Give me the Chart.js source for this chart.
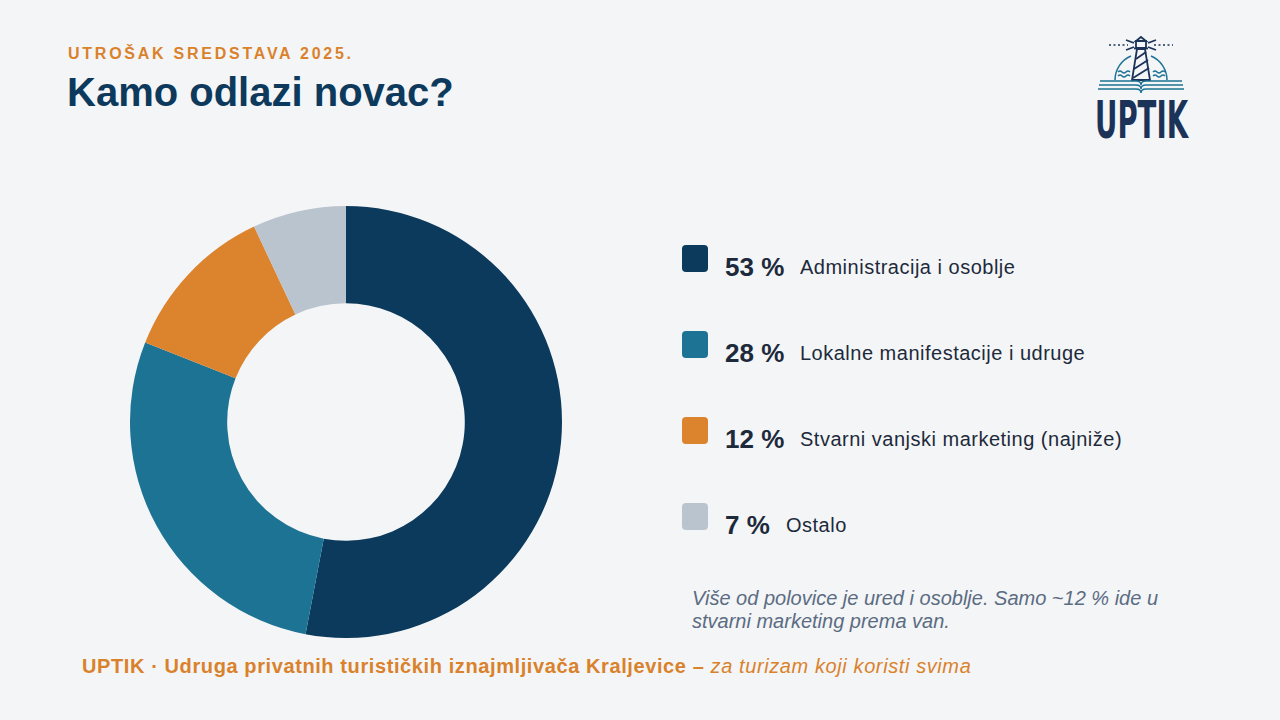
<!DOCTYPE html>
<html lang="hr">
<head>
<meta charset="utf-8">
<title>Kamo odlazi novac?</title>
<script src="https://cdn.jsdelivr.net/npm/chart.js@4/dist/chart.umd.min.js"></script>
<style>
  html, body { margin: 0; padding: 0; }
  body {
    width: 1280px; height: 720px; overflow: hidden; position: relative;
    background: #f4f5f7; font-family: "Liberation Sans", Arial, sans-serif;
  }
  .kicker {
    position: absolute; left: 68px; top: 45px;
    font-size: 16px; font-weight: bold; letter-spacing: 2.75px; color: #d9822b;
  }
  .title {
    position: absolute; left: 67px; top: 70px;
    font-size: 40px; font-weight: bold; color: #0d3a5c;
  }
  .logo { position: absolute; left: 1090px; top: 34px; }
  .chart-box { position: absolute; left: 130px; top: 206px; width: 432px; height: 432px; }
  .legend { position: absolute; left: 682px; top: 245px; }
  .row { position: absolute; left: 0; height: 30px; white-space: nowrap; }
  .sw { position: absolute; left: 0; top: 0; width: 26px; height: 27px; border-radius: 4px; }
  .pct { position: absolute; left: 43px; top: 7px; font-size: 26px; font-weight: bold; color: #1d2a3b; }
  .lbl { position: absolute; top: 11px; font-size: 20px; letter-spacing: 0.5px; color: #1d2a3b; }
  .note {
    position: absolute; left: 692px; top: 587px; width: 520px;
    font-size: 20px; font-style: italic; color: #5b6c82; line-height: 23px;
  }
  .footer {
    position: absolute; left: 82px; top: 655px;
    font-size: 20px; font-weight: bold; letter-spacing: 0.6px; color: #d9822b; white-space: nowrap;
  }
  .footer i { font-weight: normal; }
</style>
</head>
<body>
<div class="kicker">UTROŠAK SREDSTAVA 2025.</div>
<div class="title">Kamo odlazi novac?</div>

<svg class="logo" width="110" height="110" viewBox="0 0 110 110">
  <g fill="none" stroke="#1b3358" stroke-width="1.8">
    <!-- zrake svjetla -->
    <line x1="19" y1="11" x2="38" y2="11" stroke-dasharray="2 2.5" stroke-width="1.4"/>
    <line x1="64" y1="11" x2="83" y2="11" stroke-dasharray="2 2.5" stroke-width="1.4"/>
    <line x1="36" y1="6" x2="44" y2="9"/>
    <line x1="66" y1="6" x2="58" y2="9"/>
    <line x1="36" y1="16" x2="44" y2="13"/>
    <line x1="66" y1="16" x2="58" y2="13"/>
    <!-- svjetionik -->
    <path d="M51 3 l5 4 h-10 z"/>
    <path d="M46 7 h10 v7 h-10 z"/>
    <line x1="44" y1="14.5" x2="58" y2="14.5"/>
    <path d="M47 15 h8 l5 31 h-18 z"/>
    <line x1="46" y1="25" x2="56" y2="18"/>
    <line x1="44" y1="35" x2="58" y2="26"/>
    <line x1="43" y1="44" x2="59" y2="34"/>
  </g>
  <g fill="none" stroke="#1c7394" stroke-width="1.5">
    <path d="M25 46 A26 26 0 0 1 41 22"/>
    <path d="M77 46 A26 26 0 0 0 61 22"/>
    <path d="M28 38 q2 -2 4 0 q2 2 4 0 q2 -2 4 0"/>
    <path d="M28 42 q2 -2 4 0 q2 2 4 0 q2 -2 4 0"/>
    <path d="M63 38 q2 -2 4 0 q2 2 4 0 q2 -2 4 0"/>
    <path d="M63 42 q2 -2 4 0 q2 2 4 0 q2 -2 4 0"/>
    <!-- knjiga -->
    <path d="M10 47 h36 q5 0 5 4 q0 -4 5 -4 h36"/>
    <path d="M9 51 h37 q5 0 5 4 q0 -4 5 -4 h37"/>
    <path d="M8 55 h38 q5 0 5 4 q0 -4 5 -4 h38"/>
  </g>
  <text x="5" y="104" textLength="93" lengthAdjust="spacingAndGlyphs"
        font-family="DejaVu Sans Condensed, DejaVu Sans, sans-serif" font-weight="bold"
        font-size="52" fill="#1b3358">UPTIK</text>
</svg>

<div class="chart-box"><canvas id="donut"></canvas></div>
<div class="legend" id="legend"></div>

<div class="note">Više od polovice je ured i osoblje. Samo ~12 % ide u<br>stvarni marketing prema van.</div>
<div class="footer">UPTIK · Udruga privatnih turističkih iznajmljivača Kraljevice – <i>za turizam koji koristi svima</i></div>

<script>
// podaci
const KATEGORIJE = [
  'Administracija i osoblje',
  'Lokalne manifestacije i udruge',
  'Stvarni vanjski marketing (najniže)',
  'Ostalo'
];
const UDJELI = [53, 28, 12, 7];
const BOJE = ['#0b3a5c', '#1c7394', '#db832d', '#bac4ce'];

// legenda s desne strane
const legend = document.getElementById('legend');
KATEGORIJE.forEach((naziv, i) => {
  const row = document.createElement('div');
  row.className = 'row';
  row.style.top = (i * 86) + 'px';
  const pct = UDJELI[i] + ' %';
  row.innerHTML =
    `<div class="sw" style="background:${BOJE[i]}"></div>` +
    `<span class="pct">${pct}</span>` +
    `<span class="lbl" style="left:${UDJELI[i] < 10 ? 104 : 118}px">${naziv}</span>`;
  legend.appendChild(row);
});

new Chart(document.getElementById('donut').getContext('2d'), {
  type: 'doughnut',
  data: {
    labels: KATEGORIJE,
    datasets: [{
      data: UDJELI,
      backgroundColor: BOJE,
      borderWidth: 0,
      hoverOffset: 0,
    }]
  },
  options: {
    responsive: true,
    maintainAspectRatio: false,
    animation: false,
    cutout: '55%',
    layout: { padding: 0 },
    plugins: {
      legend: { display: false },
      tooltip: { enabled: false }
    }
  }
});
</script>
</body>
</html>
